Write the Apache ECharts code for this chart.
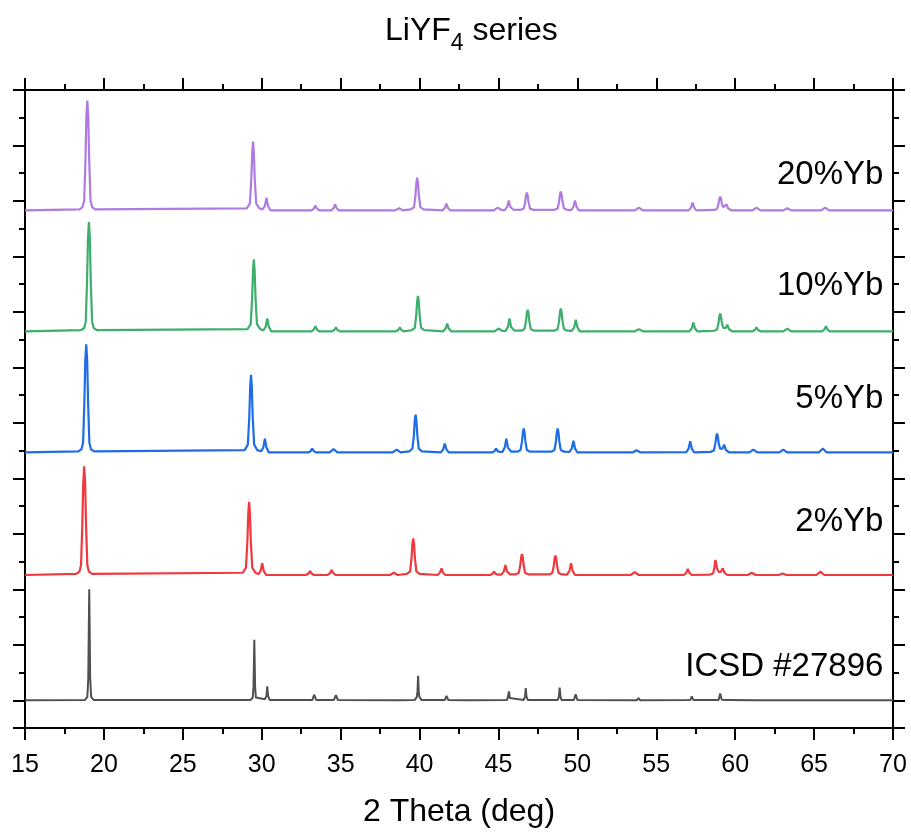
<!DOCTYPE html>
<html>
<head>
<meta charset="utf-8">
<script src="https://cdn.jsdelivr.net/npm/echarts@6/dist/echarts.min.js"></script>
<style>html,body{margin:0;padding:0;background:#fff}#chart{width:911px;height:833px}</style>
</head>
<body>
<div id="chart"></div>
<script>
// ---------- DATA (2θ in degrees, intensity in % of strongest reflection) ----------
const seriesNames = ['ICSD #27896', '2%Yb', '5%Yb', '10%Yb', '20%Yb'];
const xTicks = [15, 20, 25, 30, 35, 40, 45, 50, 55, 60, 65, 70];

const icsd = [[15,0],[18.8,0.3],[18.95,3],[19.01,20],[19.07,100],[19.13,20],[19.19,3],[19.35,0.3],[25,0.2],
[29.3,0.3],[29.43,2.5],[29.48,12],[29.53,54.5],[29.58,12],[29.63,2.5],[29.75,1],[30.2,1],[30.3,4],[30.35,12.5],[30.4,4],[30.5,0.3],
[33.2,0.2],[33.33,5],[33.45,0.2],[34.57,0.2],[34.7,4.5],[34.83,0.2],[38.5,0.1],[38.6,1],[38.7,0.1],
[39.7,0.3],[39.83,3],[39.87,8],[39.91,22],[39.95,8],[39.99,3],[40.12,0.3],[41.6,0.2],[41.71,4],[41.82,0.2],
[42.9,0.1],[43.0,0.8],[43.1,0.1],[45.55,0.3],[45.62,2],[45.67,8],[45.72,2],[45.8,0.3],
[46.6,0.3],[46.68,3],[46.73,11],[46.78,3],[46.86,0.3],[48.75,0.3],[48.83,3],[48.88,11.5],[48.93,3],[49.0,0.3],
[49.78,0.2],[49.89,5.5],[50.0,0.2],[53.77,0.1],[53.87,2],[53.97,0.1],[57.15,0.2],[57.25,3.5],[57.35,0.2],
[58.48,0.2],[58.58,2],[58.68,0.2],[58.95,0.3],[59.05,6],[59.15,0.5],[59.43,0.2],[59.53,2],[59.63,0.2],
[61.18,0.1],[61.28,1.5],[61.38,0.1],[63.1,0.1],[63.2,1],[63.3,0.1],[65.65,0.1],[65.75,1],[65.85,0.1],[70,0]];

const yb2 = [[15,0],
[18.25,1],[18.45,3],[18.55,9],[18.63,44],[18.69,83],[18.75,98],[18.81,83],[18.87,44],[18.95,9],[19.05,3],[19.25,1],
[28.8,2],[29.0,6.6],[29.09,30],[29.15,56],[29.2,66],[29.25,56],[29.31,30],[29.4,6.6],[29.6,2],
[29.8,0.8],[29.93,3.7],[30.03,10.5],[30.13,3.7],[30.28,0],
[32.81,0],[32.96,1.3],[33.06,3.6],[33.16,1.3],[33.31,0],
[34.18,0],[34.33,1.6],[34.43,4.5],[34.53,1.6],[34.68,0],
[38.12,0],[38.37,2],[38.62,0],
[39.2,1],[39.4,3.3],[39.49,15],[39.55,28],[39.6,33],[39.65,28],[39.71,15],[39.8,3.3],[40.0,1],
[41.14,0],[41.29,2.1],[41.39,6],[41.49,2.1],[41.64,0],
[44.47,0],[44.62,1],[44.72,3],[44.82,1],[44.97,0.3],
[45.19,0.3],[45.34,3.2],[45.44,9],[45.54,3.2],[45.74,0.6],
[46.09,0.6],[46.29,1.9],[46.38,8.5],[46.44,16],[46.49,19],[46.54,16],[46.6,8.5],[46.69,1.9],[46.89,0.6],
[48.21,0.5],[48.41,1.8],[48.5,7.9],[48.56,15],[48.61,17.5],[48.66,15],[48.72,7.9],[48.81,1.8],[49.01,0.5],
[49.35,0.4],[49.5,3.7],[49.6,10.5],[49.7,3.7],[49.85,0],
[53.38,0],[53.63,2.5],[53.88,0],
[56.75,0],[56.9,1.9],[57.0,5.5],[57.1,1.9],[57.25,0],
[58.4,0.4],[58.6,1.4],[58.68,6],[58.72,11.5],[58.75,13.5],[58.78,11.5],[58.85,6],[58.95,2.8],[59.1,3],[59.22,6],[59.32,2.1],[59.5,0],
[60.8,0],[61.05,2],[61.3,0],
[62.75,0],[63.0,1.3],[63.25,0],
[65.15,0],[65.4,3],[65.65,0],[70,0]];

const yb5 = [[15,0],
[18.38,1],[18.58,2.9],[18.68,8.8],[18.76,44],[18.82,83],[18.88,97.5],[18.94,83],[19.0,44],[19.08,8.8],[19.18,2.9],[19.38,1],
[28.92,2.1],[29.12,7],[29.21,31.5],[29.27,59.5],[29.32,70],[29.37,59.5],[29.43,31.5],[29.52,7],[29.72,2.1],
[29.95,1],[30.1,4.4],[30.2,12.5],[30.3,4.4],[30.45,0],
[32.95,0],[33.1,1.2],[33.2,3.5],[33.3,1.2],[33.45,0],
[34.3,0],[34.55,3],[34.8,0],
[38.3,0],[38.55,2.5],[38.8,0],
[39.35,1],[39.55,3.4],[39.64,15.3],[39.7,29],[39.75,34],[39.8,29],[39.86,15.3],[39.95,3.4],[40.15,1],
[41.35,0],[41.5,2.8],[41.6,8],[41.7,2.8],[41.85,0],
[44.6,0],[44.75,1.2],[44.85,3.5],[44.95,1.2],[45.1,0.4],
[45.25,0.5],[45.4,4.4],[45.5,12.5],[45.6,4.4],[45.8,0.8],
[46.2,0.7],[46.4,2.2],[46.49,9.7],[46.55,18.3],[46.6,21.5],[46.65,18.3],[46.71,9.7],[46.8,2.2],[47.0,0.7],
[48.35,0.7],[48.55,2.2],[48.64,9.7],[48.7,18.3],[48.75,21.5],[48.8,18.3],[48.86,9.7],[48.95,2.2],[49.15,0.7],
[49.5,0.4],[49.65,3.7],[49.75,10.5],[49.85,3.7],[50.0,0],
[53.5,0],[53.75,2],[54.0,0],
[56.9,0.3],[57.05,3.5],[57.15,10],[57.25,3.5],[57.4,0],
[58.45,0.5],[58.65,1.7],[58.74,7.7],[58.8,14.5],[58.85,17],[58.9,14.5],[58.96,7.7],[59.05,3.5],[59.2,3.5],[59.3,7],[59.4,2.5],[59.6,0],
[60.9,0],[61.15,2.5],[61.4,0],
[62.8,0],[63.05,2.5],[63.3,0],
[65.3,0],[65.55,3.5],[65.8,0],[70,0]];

const yb10 = [[15,0],
[18.55,1],[18.75,3],[18.85,8.9],[18.93,44],[18.99,84],[19.05,98.5],[19.11,84],[19.17,44],[19.25,8.9],[19.35,3],[19.55,1],
[29.1,2],[29.3,6.5],[29.39,29],[29.45,55],[29.5,65],[29.55,55],[29.61,29],[29.7,6.5],[29.9,2],
[30.1,0.8],[30.25,4],[30.35,11.5],[30.45,4],[30.6,0],
[33.15,0],[33.3,1.6],[33.4,4.5],[33.5,1.6],[33.65,0],
[34.45,0],[34.6,1.2],[34.7,3.5],[34.8,1.2],[34.95,0],
[38.5,0],[38.65,1.2],[38.75,3.5],[38.85,1.2],[39.0,0],
[39.5,1],[39.7,3.2],[39.79,14.4],[39.85,27],[39.9,32],[39.95,27],[40.01,14.4],[40.1,3.2],[40.3,1],
[41.5,0],[41.65,2.5],[41.75,7],[41.85,2.5],[42.0,0],
[44.75,0],[45.0,2.5],[45.25,0.3],
[45.45,0.4],[45.6,4],[45.7,11.5],[45.8,4],[46.0,0.7],
[46.45,0.6],[46.65,2],[46.74,8.8],[46.8,16.6],[46.85,19.5],[46.9,16.6],[46.96,8.8],[47.05,2],[47.25,0.6],
[48.55,0.6],[48.75,2],[48.84,9.2],[48.9,17.4],[48.95,20.5],[49.0,17.4],[49.06,9.2],[49.15,2],[49.35,0.6],
[49.65,0.4],[49.8,3.7],[49.9,10.5],[50.0,3.7],[50.15,0],
[53.65,0],[53.9,2],[54.15,0],
[57.1,0],[57.25,2.8],[57.35,8],[57.45,2.8],[57.6,0],
[58.65,0.5],[58.85,1.6],[58.94,7.2],[59.0,13.6],[59.05,16],[59.1,13.6],[59.16,7.2],[59.25,3.2],[59.4,3],[59.5,6],[59.6,2.1],[59.8,0],
[61.1,0],[61.25,1.2],[61.35,3.5],[61.45,1.2],[61.6,0],
[63.05,0],[63.3,2.5],[63.55,0],
[65.5,0],[65.65,1.6],[65.75,4.5],[65.85,1.6],[66.0,0],[70,0]];

const yb20 = [[15,0],
[18.45,1],[18.65,3],[18.75,8.9],[18.83,44.5],[18.89,84],[18.95,99],[19.01,84],[19.07,44.5],[19.15,8.9],[19.25,3],[19.45,1],
[29.05,1.9],[29.25,6.2],[29.34,28],[29.4,52.7],[29.45,62],[29.5,52.7],[29.56,28],[29.65,6.2],[29.85,1.9],
[30.05,0.8],[30.2,4],[30.3,11.5],[30.4,4],[30.55,0],
[33.15,0],[33.3,1.6],[33.4,4.5],[33.5,1.6],[33.65,0],
[34.4,0],[34.55,1.9],[34.65,5.5],[34.75,1.9],[34.9,0],
[38.45,0],[38.7,2],[38.95,0],
[39.45,0.9],[39.65,3],[39.74,13.3],[39.8,25],[39.85,29.5],[39.9,25],[39.96,13.3],[40.05,3],[40.25,0.9],
[41.45,0],[41.6,2.1],[41.7,6],[41.8,2.1],[41.95,0],
[44.7,0],[44.95,2.5],[45.2,0.3],
[45.4,0.3],[45.55,3.2],[45.65,9],[45.75,3.2],[45.95,0.6],
[46.4,0.5],[46.6,1.6],[46.69,7.2],[46.75,13.6],[46.8,16],[46.85,13.6],[46.91,7.2],[47.0,1.6],[47.2,0.5],
[48.55,0.5],[48.75,1.7],[48.84,7.7],[48.9,14.5],[48.95,17],[49.0,14.5],[49.06,7.7],[49.15,1.7],[49.35,0.5],
[49.6,0.3],[49.75,3.2],[49.85,9],[49.95,3.2],[50.1,0],
[53.65,0],[53.9,2.5],[54.15,0],
[57.05,0],[57.2,2.5],[57.3,7],[57.4,2.5],[57.55,0],
[58.65,0.4],[58.85,1.3],[58.94,5.6],[59.0,10.6],[59.05,12.5],[59.1,10.6],[59.16,5.6],[59.25,2.8],[59.35,2.8],[59.45,5.5],[59.55,1.9],[59.75,0],
[61.1,0],[61.35,2.5],[61.6,0],
[63.05,0],[63.3,2],[63.55,0],
[65.45,0],[65.7,2.5],[65.95,0],[70,0]];

const patterns = [icsd, yb2, yb5, yb10, yb20];
// vertical stacking offsets (axis units) and scale (axis units per %)
const offsets = [0, 2.258, 4.467, 6.65, 8.83];
const unitsPerPercent = 0.02;

// ---------- LAYOUT / STYLE ----------
const colors = ['#505050', '#F0393F', '#1F6DE6', '#3DAE6C', '#B07BE0'];
const lineWidths = [2, 2.2, 2.2, 2.2, 2.2];
const labelAnchors = [[69.39, 0.6], [69.39, 3.21], [69.39, 5.43], [69.39, 7.47], [69.39, 9.47]];
const FONT = "'Liberation Sans', Arial, sans-serif";

const chart = echarts.init(document.getElementById('chart'), null, {renderer: 'canvas'});

const tickCommon = {
  axisLine: {show: true, onZero: false, lineStyle: {color: '#000', width: 2}},
  axisTick: {show: true, inside: false, length: 12, lineStyle: {color: '#000', width: 2}},
  minorTick: {show: true, splitNumber: 2, length: 6, lineStyle: {color: '#000', width: 2}},
  splitLine: {show: false},
  minorSplitLine: {show: false}
};

const series = patterns.map((p, i) => ({
  name: seriesNames[i],
  type: 'line',
  xAxisIndex: 0, yAxisIndex: 0,
  showSymbol: false,
  symbol: 'none',
  smooth: false,
  silent: true,
  lineStyle: {color: colors[i], width: lineWidths[i]},
  itemStyle: {color: colors[i]},
  data: p.map(d => [d[0], offsets[i] + d[1] * unitsPerPercent]),
  z: 2
}));

series.push({
  type: 'scatter',
  xAxisIndex: 0, yAxisIndex: 0,
  symbolSize: 0,
  silent: true,
  itemStyle: {opacity: 1},
  data: labelAnchors.map((a, i) => ({value: a, name: seriesNames[i]})),
  label: {
    show: true, position: 'left', distance: 0,
    formatter: d => d.name,
    fontSize: 33, color: '#000', opacity: 1, fontFamily: FONT
  },
  z: 5
});

chart.setOption({
  animation: false,
  backgroundColor: '#fff',
  textStyle: {fontFamily: FONT},
  title: {
    text: '{a|LiYF}{s|4}{a| series}',
    left: 380, top: 10,
    textStyle: {
      fontWeight: 'normal',
      rich: {
        a: {fontSize: 32, fontWeight: 'normal', color: '#000', fontFamily: FONT, lineHeight: 34, verticalAlign: 'top'},
        s: {fontSize: 23, fontWeight: 'normal', color: '#000', fontFamily: FONT, lineHeight: 23, verticalAlign: 'top', padding: [17, 0, 0, 0]}
      }
    }
  },
  grid: {left: 25, right: 18, top: 90, bottom: 101, containLabel: false},
  xAxis: [
    Object.assign({
      type: 'value', position: 'bottom', min: 15, max: 70, interval: 5,
      name: '2 Theta (deg)', nameLocation: 'middle', nameGap: 68,
      nameTextStyle: {fontSize: 32, color: '#000', fontFamily: FONT},
      axisLabel: {show: true, fontSize: 25, color: '#000', margin: 25, fontFamily: FONT,
        formatter: v => xTicks.indexOf(v) >= 0 ? String(v) : ''}
    }, tickCommon),
    Object.assign({
      type: 'value', position: 'top', min: 15, max: 70, interval: 5,
      axisLabel: {show: false}
    }, tickCommon)
  ],
  yAxis: [
    Object.assign({
      type: 'value', position: 'left', min: -0.5, max: 11, minInterval: 1, maxInterval: 1,
      axisLabel: {show: false}
    }, tickCommon),
    Object.assign({
      type: 'value', position: 'right', min: -0.5, max: 11, minInterval: 1, maxInterval: 1,
      axisLabel: {show: false}
    }, tickCommon)
  ],
  series: series
});
</script>
</body>
</html>
